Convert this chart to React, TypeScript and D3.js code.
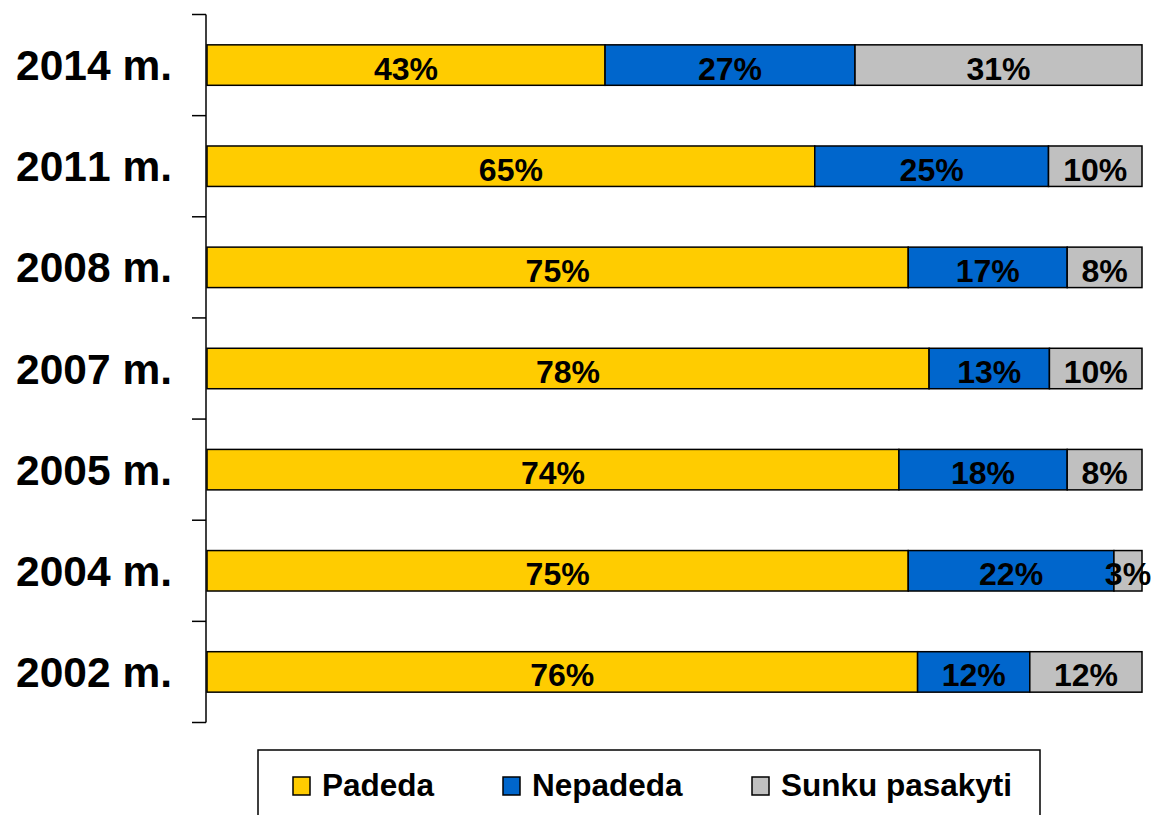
import React from "react";
import * as d3 from "d3";

const categories = ["2014 m.", "2011 m.", "2008 m.", "2007 m.", "2005 m.", "2004 m.", "2002 m."];
const padeda = [43, 65, 75, 78, 74, 75, 76];
const nepadeda = [27, 25, 17, 13, 18, 22, 12];
const sunku = [31, 10, 8, 10, 8, 3, 12];
const seriesNames = ["Padeda", "Nepadeda", "Sunku pasakyti"];
const seriesColors = ["#FFCC00", "#0066CC", "#C0C0C0"];

const W = 1153;
const H = 815;
const FONT = "Arial, 'Liberation Sans', Helvetica, sans-serif";

export default function App() {
  const series = [padeda, nepadeda, sunku];
  const y = d3.scaleBand<string>().domain(categories).range([14.5, 722.5]).paddingInner(0.6).paddingOuter(0.3);
  const x = d3.scaleLinear().domain([0, 1]).range([207, 1142]);
  const step = y.step();
  const tickYs = d3.range(categories.length + 1).map((i) => 14.5 + i * step);

  const rows = categories.map((c, i) => {
    const vals = series.map((s) => s[i]);
    const total = d3.sum(vals);
    let acc = 0;
    return vals.map((v, j) => {
      const x0 = acc / total;
      acc += v;
      const x1 = acc / total;
      return { c, v, j, x0, x1 };
    });
  });

  const legendX = [293, 503, 752];

  return (
    <svg width={W} height={H} style={{ position: "absolute", left: 0, top: 0, background: "#fff", fontKerning: "none" }} fontFamily={FONT}>
      <rect x={0} y={0} width={W} height={H} fill="#fff" />
      <line x1={206} x2={206} y1={14.5} y2={722.5} stroke="#000" strokeWidth={1.5} />
      {tickYs.map((t, i) => (
        <line key={i} x1={192} x2={206} y1={t} y2={t} stroke="#000" strokeWidth={1.5} />
      ))}
      {categories.map((c) => (
        <text key={c} x={172} y={(y(c) as number) + y.bandwidth() / 2 + 15} textAnchor="end" fontSize={42.5} fontWeight="bold" fill="#000" style={{ fontKerning: "none" }}>
          {c}
        </text>
      ))}
      {rows.map((segs) =>
        segs.map((s) => (
          <rect
            key={s.c + s.j}
            x={x(s.x0)}
            y={y(s.c)}
            width={x(s.x1) - x(s.x0)}
            height={y.bandwidth()}
            fill={seriesColors[s.j]}
            stroke="#000"
            strokeWidth={1.5}
          />
        ))
      )}
      {rows.map((segs) =>
        segs.map((s) => (
          <text
            key={"t" + s.c + s.j}
            x={(x(s.x0) + x(s.x1)) / 2}
            y={(y(s.c) as number) + y.bandwidth() / 2 + 14.5}
            textAnchor="middle"
            fontSize={32}
            fontWeight="bold"
            fill="#000"
            style={{ fontKerning: "none" }}
          >
            {s.v + "%"}
          </text>
        ))
      )}
      <rect x={258} y={750} width={782} height={90} fill="#fff" stroke="#000" strokeWidth={1.5} />
      {seriesNames.map((n, j) => (
        <g key={n}>
          <rect x={legendX[j]} y={777} width={17} height={18} fill={seriesColors[j]} stroke="#000" strokeWidth={1.5} />
          <text x={legendX[j] + 29} y={796} fontSize={31.5} fontWeight="bold" fill="#000" style={{ fontKerning: "none" }}>
            {n}
          </text>
        </g>
      ))}
    </svg>
  );
}
